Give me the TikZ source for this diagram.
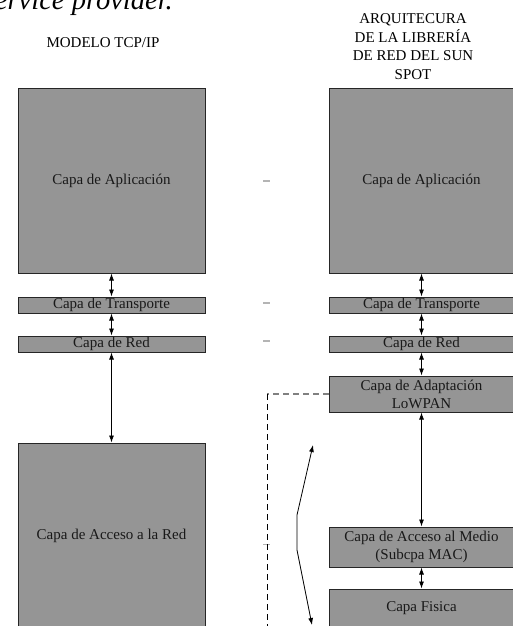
\documentclass[tikz,border=0pt]{standalone}
\usepackage{fontspec}
\setmainfont{Liberation Serif}
\usetikzlibrary{arrows.meta}
\definecolor{boxgray}{HTML}{959595}
\definecolor{eqgray}{HTML}{B4B4B4}
\tikzset{
  layer/.style={draw=black!85, line width=1pt, fill=boxgray, inner sep=0pt,
    font=\fontsize{15}{18}\selectfont, text=black!90, align=center},
  lbox/.style={layer, minimum width=187pt},
  rbox/.style={layer, minimum width=185pt},
  dbl/.style={line width=0.8pt, {Latex[length=7pt,width=5pt]}-{Latex[length=7pt,width=5pt]}},
  eqmark/.style={draw=eqgray, line width=1.6pt},
  head/.style={font=\fontsize{15}{18.5}\selectfont, align=center, inner sep=0pt}
}
\begin{document}
\begin{tikzpicture}[x=1pt,y=-1pt]
\useasboundingbox (0,0) rectangle (513,626);
\begin{scope}
\clip (0,0) rectangle (513,626);
% top cut text
\node[anchor=base east, inner sep=0pt, font=\fontsize{28.5}{30}\selectfont\itshape] (top) at (173,10) {service provider.};
% headers
\node[head] (hl) at (103,43) {MODELO TCP/IP};
\node[head] (hr) at (413,46.5) {ARQUITECURA\\DE LA LIBRERÍA\\DE RED DEL SUN\\SPOT};
% left stack
\node[lbox, minimum height=185pt] (lapp) at (111.5,180.5) {Capa de Aplicación};
\node[lbox, minimum height=16pt] (ltr) at (111.5,305) {Capa de Transporte};
\node[lbox, minimum height=16pt] (lred) at (111.5,344) {Capa de Red};
\node[lbox, minimum height=186pt] (lacc) at (111.5,536) {Capa de Acceso a la Red};
% right stack
\node[rbox, minimum height=185pt] (rapp) at (421.5,180.5) {Capa de Aplicación};
\node[rbox, minimum height=16pt] (rtr) at (421.5,305) {Capa de Transporte};
\node[rbox, minimum height=16pt] (rred) at (421.5,344) {Capa de Red};
\node[rbox, minimum height=36pt] (rad) at (421.5,394) {Capa de Adaptación\\LoWPAN};
\node[rbox, minimum height=40pt] (rmac) at (421.5,547) {Capa de Acceso al Medio\\(Subcpa MAC)};
\node[rbox, minimum height=38pt] (rfis) at (421.5,608) {Capa Fisica};
% arrows
\draw[dbl] (lapp.south) -- (ltr.north);
\draw[dbl] (ltr.south) -- (lred.north);
\draw[dbl] (lred.south) -- (lacc.north);
\draw[dbl] (rapp.south) -- (rtr.north);
\draw[dbl] (rtr.south) -- (rred.north);
\draw[dbl] (rred.south) -- (rad.north);
\draw[dbl] (rad.south) -- (rmac.north);
\draw[dbl] (rmac.south) -- (rfis.north);
% equal marks
\coordinate (e1a) at (263,181); \coordinate (e1b) at (270,181);
\coordinate (e2a) at (263,303); \coordinate (e2b) at (270,303);
\coordinate (e3a) at (263,341); \coordinate (e3b) at (270,341);
\coordinate (e4a) at (263,544); \coordinate (e4b) at (270,544);
\draw[eqmark] (e1a) -- (e1b);
\draw[eqmark] (e2a) -- (e2b);
\draw[eqmark] (e3a) -- (e3b);
\draw[draw=eqgray, line width=1pt] (e4a) -- (e4b);
% dashed bracket
\coordinate (dc) at (267,394);
\coordinate (dend) at (267,630);
\draw[gray, line width=1.3pt, dash pattern=on 6pt off 4pt] (rad.west) -- (dc);
\draw[black, line width=0.8pt, dash pattern=on 6pt off 4pt] (dc) -- (dend);
% bent double arrow
\coordinate (ba) at (313,445);
\coordinate (bb) at (297,515);
\coordinate (bc) at (297,550);
\coordinate (bd) at (312,625);
\draw[dbl] (ba) -- (bb) -- (bc) -- (bd);
\end{scope}
\end{tikzpicture}
\end{document}
